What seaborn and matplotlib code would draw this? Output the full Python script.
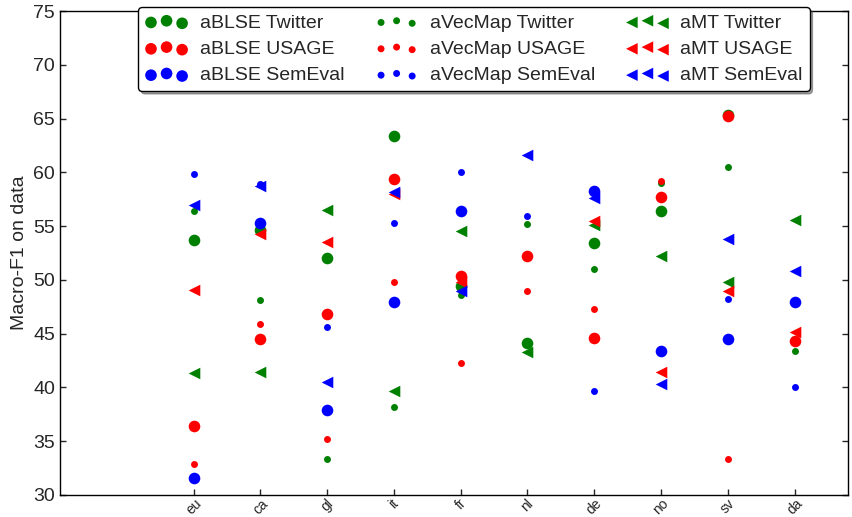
import numpy as np
import pandas as pd
import matplotlib
matplotlib.use("Agg")
import matplotlib.pyplot as plt
import seaborn as sns

nan = np.nan

languages = ["eu", "ca", "gl", "it", "fr", "nl", "de", "no", "sv", "da"]

ablse_twitter = [53.7, 54.6, 52.0, 63.4, 49.4, 44.1, 53.4, 56.4, 65.3, 68.3]
ablse_usage = [36.4, 44.5, 46.8, 59.4, 50.4, 52.2, 44.6, 57.7, 65.2, 44.3]
ablse_semeval = [31.6, 55.3, 37.9, 47.9, 56.4, nan, 58.3, 43.4, 44.5, 47.9]

avecmap_twitter = [56.4, 48.1, 33.3, 38.2, 48.6, 55.2, 51.0, 59.0, 60.5, 43.4]
avecmap_usage = [32.9, 45.9, 35.2, 49.8, 42.3, 49.0, 47.3, 59.2, 33.3, nan]
avecmap_semeval = [59.8, 58.9, 45.6, 55.3, 60.0, 55.9, 39.7, nan, 48.2, 40.0]

amt_twitter = [41.3, 41.4, 56.5, 39.7, 54.5, 43.3, 55.1, 52.2, 49.8, 55.6]
amt_usage = [49.1, 54.3, 53.5, 58.0, 49.8, nan, 55.5, 41.4, 49.0, 45.2]
amt_semeval = [57.0, 58.7, 40.5, 58.2, 49.0, 61.6, 57.6, 40.3, 53.8, 50.8]

sns.set_style("white")
plt.rcParams.update({
    "font.family": ["Liberation Sans", "DejaVu Sans"],
    "xtick.direction": "in",
    "ytick.direction": "in",
    "xtick.top": True,
    "ytick.right": True,
    "xtick.bottom": True,
    "ytick.left": True,
    "xtick.major.size": 4,
    "ytick.major.size": 4,
    "xtick.major.width": 1,
    "ytick.major.width": 1,
    "axes.edgecolor": "black",
    "axes.linewidth": 1,
})

series = [
    ("aBLSE Twitter", ablse_twitter, "green", "o", 70),
    ("aBLSE USAGE", ablse_usage, "red", "o", 70),
    ("aBLSE SemEval", ablse_semeval, "blue", "o", 70),
    ("aVecMap Twitter", avecmap_twitter, "green", "o", 25),
    ("aVecMap USAGE", avecmap_usage, "red", "o", 25),
    ("aVecMap SemEval", avecmap_semeval, "blue", "o", 25),
    ("aMT Twitter", amt_twitter, "green", "<", 70),
    ("aMT USAGE", amt_usage, "red", "<", 70),
    ("aMT SemEval", amt_semeval, "blue", "<", 70),
]

fig = plt.figure(figsize=(8.52, 5.17), dpi=100)
ax = fig.add_axes([0.0704, 0.0426, 0.9249, 0.9361])

xpos = np.arange(len(languages))
for name, vals, color, marker, size in series:
    df = pd.DataFrame({"x": xpos, "y": vals}).dropna()
    sns.scatterplot(data=df, x="x", y="y", ax=ax, color=color, marker=marker,
                    s=size, linewidth=0, label=name)

ax.set_xlim(-2, 9.8)
ax.set_ylim(30, 75)
ax.set_xticks(xpos)
ax.set_xticklabels(languages, rotation=45, fontsize=10)
ax.tick_params(axis="x", pad=1)
ax.set_yticks(np.arange(30, 76, 5))
ax.tick_params(axis="y", labelsize=14)
ax.set_xlabel("")
ax.set_ylabel("Macro-F1 on data", fontsize=14)

leg = ax.legend(loc="upper center", bbox_to_anchor=(0.5254, 1.008), ncol=3,
                scatterpoints=3, fontsize=14, frameon=True, fancybox=True,
                shadow=True, borderpad=0.35, labelspacing=0.45,
                handletextpad=0.6, columnspacing=1.6, handlelength=2.2,
                borderaxespad=0)
leg.get_frame().set_edgecolor("black")
leg.get_frame().set_linewidth(1)
leg.get_frame().set_alpha(1)

fig.savefig("out.png", dpi=100)
